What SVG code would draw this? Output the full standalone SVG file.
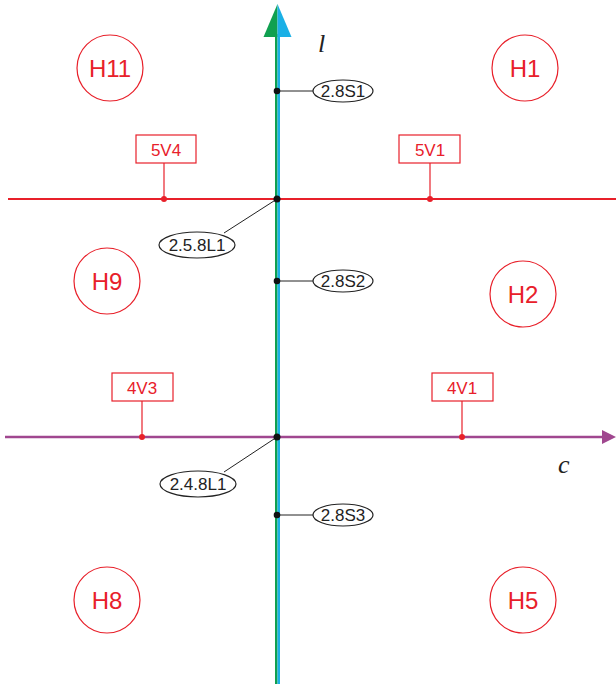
<svg xmlns="http://www.w3.org/2000/svg" width="616" height="684" viewBox="0 0 616 684">
<style>
.hc{fill:#fff;stroke:#e8202a;stroke-width:1.2}
.ht{font-family:"Liberation Sans",Arial,sans-serif;font-size:24px;fill:#e8202a;text-anchor:middle}
.vb{fill:#fff;stroke:#e8202a;stroke-width:1.2}
.vt{font-family:"Liberation Sans",Arial,sans-serif;font-size:17px;fill:#e8202a;text-anchor:middle}
.stem{stroke:#e8202a;stroke-width:1.2}
.rd{fill:#e8202a}
.le{fill:#fff;stroke:#222;stroke-width:1.2}
.lt{font-family:"Liberation Sans",Arial,sans-serif;font-size:17px;fill:#222;text-anchor:middle}
.ll{stroke:#222;stroke-width:1}
.bd{fill:#111}
.ax{font-family:"Liberation Serif","Times New Roman",serif;font-style:italic;font-size:26px;fill:#222}
</style>
<g id="connectors">
<line x1="8" y1="199" x2="616" y2="199" stroke="#e8202a" stroke-width="2"/>
<line x1="5" y1="437" x2="604" y2="437" stroke="#a0478f" stroke-width="2.5"/>
<polygon points="616,437 602,430 602,444" fill="#a0478f"/>
<rect x="275" y="34" width="2.5" height="650" fill="#10a050"/>
<rect x="277.5" y="34" width="2.5" height="650" fill="#1ab0e6"/>
<polygon points="277.5,4 263.5,37 277.5,37" fill="#10a050"/>
<polygon points="277.5,4 291.5,37 277.5,37" fill="#1ab0e6"/>
<line class="ll" x1="277" y1="91" x2="313" y2="91"/>
<line class="ll" x1="277" y1="281" x2="313" y2="281"/>
<line class="ll" x1="277" y1="515" x2="313" y2="515"/>
<line class="ll" x1="277" y1="199" x2="224" y2="233"/>
<line class="ll" x1="277" y1="437" x2="224" y2="472"/>
<line class="stem" x1="164" y1="163" x2="164" y2="199"/>
<line class="stem" x1="430" y1="163" x2="430" y2="199"/>
<line class="stem" x1="142" y1="401" x2="142" y2="437"/>
<line class="stem" x1="462" y1="401" x2="462" y2="437"/>
<circle class="rd" cx="164" cy="199" r="3"/>
<circle class="rd" cx="430" cy="199" r="3"/>
<circle class="rd" cx="142" cy="437" r="3"/>
<circle class="rd" cx="462" cy="437" r="3"/>
<circle class="bd" cx="277" cy="91" r="3.3"/>
<circle class="bd" cx="277" cy="281" r="3.3"/>
<circle class="bd" cx="277" cy="515" r="3.3"/>
<circle class="bd" cx="277" cy="199" r="3.5"/>
<circle class="bd" cx="277" cy="437" r="3.5"/>
</g>
<text class="ax" x="318" y="52">l</text>
<text class="ax" x="558" y="473">c</text>
<g id="H11"><circle class="hc" cx="110" cy="68" r="33"/><text class="ht" x="110" y="77">H11</text></g>
<g id="H1"><circle class="hc" cx="525" cy="68" r="33"/><text class="ht" x="525" y="77">H1</text></g>
<g id="H9"><circle class="hc" cx="107" cy="281" r="33"/><text class="ht" x="107" y="290">H9</text></g>
<g id="H2"><circle class="hc" cx="523" cy="294" r="33"/><text class="ht" x="523" y="303">H2</text></g>
<g id="H8"><circle class="hc" cx="107" cy="600" r="33"/><text class="ht" x="107" y="609">H8</text></g>
<g id="H5"><circle class="hc" cx="523" cy="600" r="33"/><text class="ht" x="523" y="609">H5</text></g>
<g id="5V4"><rect class="vb" x="136" y="135" width="60" height="28"/><text class="vt" x="166" y="155.5">5V4</text></g>
<g id="5V1"><rect class="vb" x="399" y="135" width="61" height="28"/><text class="vt" x="430" y="155.5">5V1</text></g>
<g id="4V3"><rect class="vb" x="112" y="373" width="61" height="28"/><text class="vt" x="142" y="393.5">4V3</text></g>
<g id="4V1"><rect class="vb" x="432" y="373" width="61" height="28"/><text class="vt" x="462" y="393.5">4V1</text></g>
<g id="2.8S1"><ellipse class="le" cx="343" cy="91" rx="30" ry="11"/><text class="lt" x="343" y="97">2.8S1</text></g>
<g id="2.8S2"><ellipse class="le" cx="343" cy="281" rx="30" ry="11"/><text class="lt" x="343" y="287">2.8S2</text></g>
<g id="2.8S3"><ellipse class="le" cx="343" cy="515" rx="30" ry="11"/><text class="lt" x="343" y="521">2.8S3</text></g>
<g id="2.5.8L1"><ellipse class="le" cx="197" cy="245" rx="38" ry="13"/><text class="lt" x="197" y="251">2.5.8L1</text></g>
<g id="2.4.8L1"><ellipse class="le" cx="198" cy="484" rx="38" ry="13"/><text class="lt" x="198" y="490">2.4.8L1</text></g>
</svg>
